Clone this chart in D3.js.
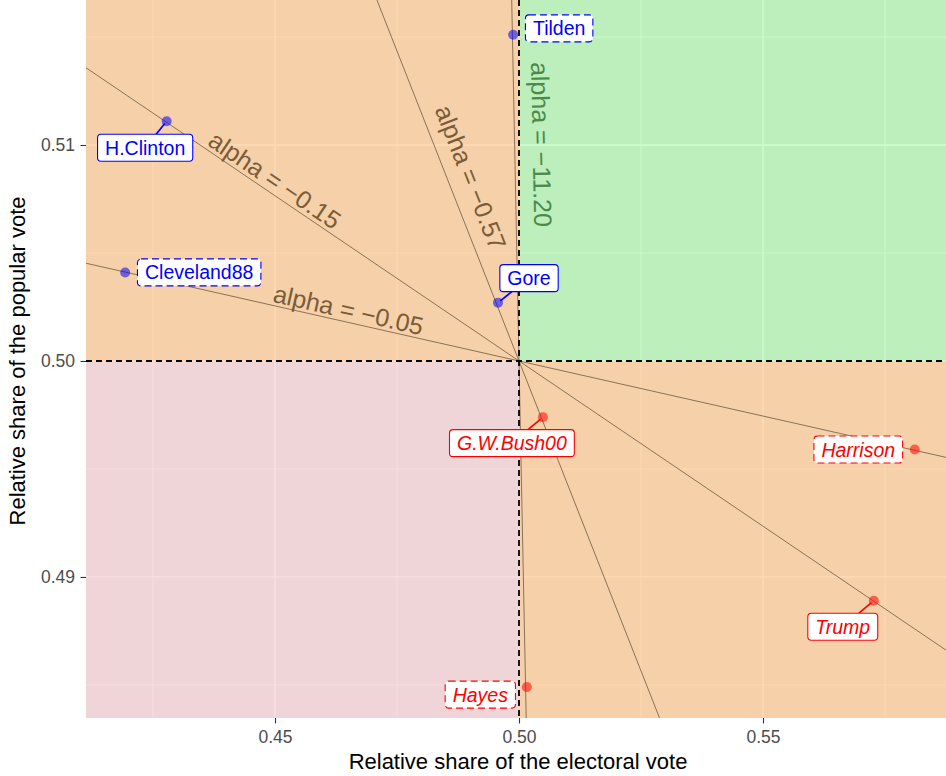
<!DOCTYPE html>
<html>
<head>
<meta charset="utf-8">
<script src="https://cdn.jsdelivr.net/npm/d3@7"></script>
<style>
  body { margin: 0; background: #fff; }
  svg { font-family: "Liberation Sans", Arial, sans-serif; display: block; }
</style>
</head>
<body>
<div id="chart"></div>
<script>
// candidates: relative share of electoral vote (x) vs popular vote (y)
let names = ["Tilden", "H.Clinton", "Cleveland88", "Gore", "G.W.Bush00", "Harrison", "Trump", "Hayes"];
let electoral = [0.4988, 0.4278, 0.4193, 0.4957, 0.5049, 0.5811, 0.5727, 0.5016];
let popular = [0.5151, 0.5111, 0.5041, 0.5027, 0.4974, 0.4959, 0.4889, 0.4849];
let party = ["D", "D", "D", "D", "R", "R", "R", "R"];
let lostPopular = [true, false, true, false, false, true, false, true];

// slopes of the lines through (0.5, 0.5)
let alphas = [-0.153, -0.051, -0.574, -11.2];
let alphaText = ["\u22120.15", "\u22120.05", "\u22120.57", "\u221211.20"];

// axis ticks
let xTicks = [0.45, 0.50, 0.55];
let yTicks = [0.49, 0.50, 0.51];
let xMinor = [0.425, 0.475, 0.525, 0.575];
let yMinor = [0.485, 0.495, 0.505, 0.515];

// layout only: label offsets (px) from each point
let labelNudge = [[46, -6.5], [-21.5, 26.5], [74, 0], [31, -24.5], [-31, 26], [-56.5, 0], [-31, 26], [-46.5, 7.5]];
// layout only: where each alpha label sits (data y on the line) and offset from the line (px)
let alphaLabelAt = [0.50788, 0.50181, 0.50812, 0.51];
let alphaLabelOff = [13, 12.5, 22.5, 27];

let W = 946, H = 776;
let pLeft = 86, pRight = 946, pTop = 0, pBottom = 718;

let svg = d3.select('#chart').append('svg')
	.attr('width', W)
	.attr('height', H);

let x = d3.scaleLinear().domain([0.41127, 0.5875]).range([pLeft, pRight]);
let y = d3.scaleLinear().domain([0.48347, 0.516713]).range([pBottom, pTop]);

svg.append('defs').append('clipPath').attr('id', 'clip')
	.append('rect').attr('x', pLeft).attr('y', pTop).attr('width', pRight - pLeft).attr('height', pBottom - pTop);

let panel = svg.append('g').attr('clip-path', 'url(#clip)');

// grey ggplot panel and grid
panel.append('rect').attr('x', pLeft).attr('y', pTop).attr('width', pRight - pLeft).attr('height', pBottom - pTop).attr('fill', '#EBEBEB');

panel.selectAll('.vminor').data(xMinor).enter().append('line')
	.attr('x1', d => x(d)).attr('x2', d => x(d)).attr('y1', pTop).attr('y2', pBottom)
	.attr('stroke', '#fff').attr('stroke-width', 0.8);
panel.selectAll('.hminor').data(yMinor).enter().append('line')
	.attr('y1', d => y(d)).attr('y2', d => y(d)).attr('x1', pLeft).attr('x2', pRight)
	.attr('stroke', '#fff').attr('stroke-width', 0.8);
panel.selectAll('.vmajor').data(xTicks).enter().append('line')
	.attr('x1', d => x(d)).attr('x2', d => x(d)).attr('y1', pTop).attr('y2', pBottom)
	.attr('stroke', '#fff').attr('stroke-width', 1.3);
panel.selectAll('.hmajor').data(yTicks).enter().append('line')
	.attr('y1', d => y(d)).attr('y2', d => y(d)).attr('x1', pLeft).attr('x2', pRight)
	.attr('stroke', '#fff').attr('stroke-width', 1.3);

// quadrants
let x0 = x.domain()[0], x1 = x.domain()[1], y0 = y.domain()[0], y1 = y.domain()[1];
let quads = [
	{ xa: x0, xb: 0.5, ya: 0.5, yb: y1, fill: 'rgba(255,181,101,0.5)' },
	{ xa: 0.5, xb: x1, ya: y0, yb: 0.5, fill: 'rgba(255,181,101,0.5)' },
	{ xa: 0.5, xb: x1, ya: 0.5, yb: y1, fill: 'rgba(0,255,0,0.2)' },
	{ xa: x0, xb: 0.5, ya: y0, yb: 0.5, fill: 'rgba(245,191,197,0.5)' }
];
panel.selectAll('.quad').data(quads).enter().append('rect')
	.attr('x', d => x(d.xa)).attr('width', d => x(d.xb) - x(d.xa))
	.attr('y', d => y(d.yb)).attr('height', d => y(d.ya) - y(d.yb))
	.attr('fill', d => d.fill);

// alpha lines
panel.selectAll('.aline').data(alphas).enter().append('line')
	.attr('x1', x(x0)).attr('y1', d => y(0.5 + d * (x0 - 0.5)))
	.attr('x2', x(x1)).attr('y2', d => y(0.5 + d * (x1 - 0.5)))
	.attr('stroke', '#5C4A33').attr('stroke-width', 0.7);

// dashed reference lines
panel.append('line').attr('x1', x(0.5)).attr('x2', x(0.5)).attr('y1', pTop).attr('y2', pBottom)
	.attr('stroke', '#000').attr('stroke-width', 1.8).attr('stroke-dasharray', '6,4');
panel.append('line').attr('y1', y(0.5)).attr('y2', y(0.5)).attr('x1', pLeft).attr('x2', pRight)
	.attr('stroke', '#000').attr('stroke-width', 1.8).attr('stroke-dasharray', '6,4');

// alpha labels
let pxSlope = (y(0.5) - y(0.51)) / (x(0.51) - x(0.5));
alphas.forEach(function(a, i) {
	let yy = alphaLabelAt[i];
	let xx = 0.5 + (yy - 0.5) / a;
	let theta = Math.atan(-a * pxSlope);
	let off = alphaLabelOff[i];
	let px = x(xx) + off * Math.sin(theta);
	let py = y(yy) - off * Math.cos(theta);
	let green = px > x(0.5) && py < y(0.5);
	panel.append('text')
		.attr('transform', 'translate(' + px + ',' + py + ') rotate(' + (theta * 180 / Math.PI) + ')')
		.attr('text-anchor', 'middle')
		.attr('dominant-baseline', 'central')
		.attr('font-size', 25)
		.attr('fill', green ? '#4C8A4C' : '#7A5C38')
		.text('alpha = ' + alphaText[i]);
});

// points
let data = names.map(function(n, i) {
	return { name: n, ex: electoral[i], pv: popular[i], party: party[i], dashed: lostPopular[i], nudge: labelNudge[i] };
});

panel.selectAll('.pt').data(data).enter().append('circle')
	.attr('cx', d => x(d.ex)).attr('cy', d => y(d.pv)).attr('r', 5)
	.attr('fill', d => d.party == 'D' ? 'rgb(0,0,255)' : 'rgb(255,0,0)')
	.attr('fill-opacity', 0.55);

// labels with segments
let labels = svg.append('g');
data.forEach(function(d) {
	let col = d.party == 'D' ? '#0000FF' : '#FF0000';
	let cx = x(d.ex) + d.nudge[0], cy = y(d.pv) + d.nudge[1];
	let g = labels.append('g');
	let t = g.append('text')
		.attr('x', cx).attr('y', cy)
		.attr('text-anchor', 'middle').attr('dominant-baseline', 'central')
		.attr('font-size', 19.5)
		.attr('font-style', d.party == 'R' ? 'italic' : 'normal')
		.attr('fill', col)
		.text(d.name);
	let tw = t.node().getComputedTextLength();
	let bw = tw + 15, bh = 27;
	// segment from point to box edge, only when the box is not right next to the point
	let dx = cx - x(d.ex), dy = cy - y(d.pv);
	let sx = Math.abs(dx) > 0 ? (bw / 2) / Math.abs(dx) : Infinity;
	let sy = Math.abs(dy) > 0 ? (bh / 2) / Math.abs(dy) : Infinity;
	let s = Math.min(sx, sy);
	let dist = Math.sqrt(dx * dx + dy * dy);
	let len = dist * (1 - s);
	if (len > 14) {
		let ux = dx / dist, uy = dy / dist;
		g.insert('line', 'text')
			.attr('x1', x(d.ex) + ux * 3).attr('y1', y(d.pv) + uy * 3)
			.attr('x2', cx - dx * s).attr('y2', cy - dy * s)
			.attr('stroke', col).attr('stroke-width', 1.7);
	}
	g.insert('rect', 'text')
		.attr('x', cx - bw / 2).attr('y', cy - bh / 2)
		.attr('width', bw).attr('height', bh)
		.attr('rx', 3.5).attr('ry', 3.5)
		.attr('fill', '#fff')
		.attr('stroke', col).attr('stroke-width', 1.1)
		.attr('stroke-dasharray', d.dashed ? '7,4' : null);
});

// axes
let xAxis = d3.axisBottom(x).tickValues(xTicks).tickFormat(d3.format('.2f')).tickSize(5.5).tickPadding(7.5);
let yAxis = d3.axisLeft(y).tickValues(yTicks).tickFormat(d3.format('.2f')).tickSize(5.5).tickPadding(5.5);

let gx = svg.append('g').attr('transform', 'translate(0,' + pBottom + ')').call(xAxis);
let gy = svg.append('g').attr('transform', 'translate(' + pLeft + ',0)').call(yAxis);
[gx, gy].forEach(function(g) {
	g.select('.domain').remove();
	g.selectAll('.tick line').attr('stroke', '#333').attr('stroke-width', 1.1);
	g.selectAll('.tick text').attr('fill', '#4D4D4D').attr('font-size', 17.5)
		.attr('font-family', '"Liberation Sans", Arial, sans-serif');
});

svg.append('text')
	.attr('x', (pLeft + pRight) / 2 + 2).attr('y', 769)
	.attr('text-anchor', 'middle').attr('font-size', 22).attr('fill', '#000')
	.text('Relative share of the electoral vote');

svg.append('text')
	.attr('transform', 'translate(25,' + ((pTop + pBottom) / 2 + 2) + ') rotate(-90)')
	.attr('text-anchor', 'middle').attr('font-size', 22).attr('fill', '#000')
	.text('Relative share of the popular vote');
</script>
</body>
</html>
